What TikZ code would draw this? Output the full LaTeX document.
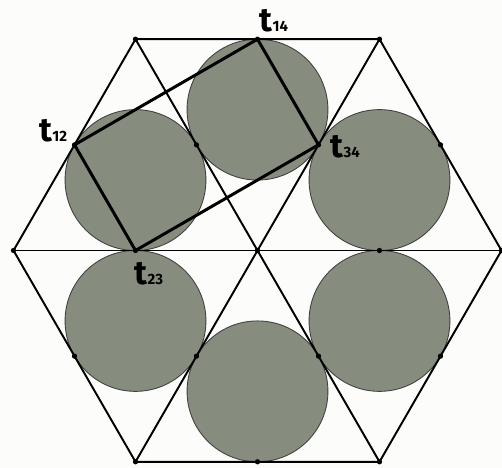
\documentclass[tikz,border=0pt]{standalone}
\usepackage{fontspec}
\setmainfont{Fira Sans}
\usepackage{xcolor}
\usepackage{tikz}
\usetikzlibrary{positioning,calc}
\definecolor{discgray}{HTML}{878D7E}
\definecolor{paper}{HTML}{FCFCFB}
\tikzset{
  edge/.style={draw,line width=1.1pt,line join=round},
  frame/.style={draw,line width=1.7pt,line join=round},
  disc/.style={draw=black!75,line width=0.5pt,fill=discgray},
  pt/.style={circle,fill=black,inner sep=0pt,minimum size=3pt},
  lbl/.style={inner sep=0pt,font=\bfseries},
}
\newcommand{\tlab}[1]{{\fontsize{19}{19}\selectfont t}{\fontsize{8.5}{9}\selectfont #1}}

\begin{document}
\begin{tikzpicture}
\def\s{4.88}
\fill[paper] (-5.15,-4.35) rectangle (4.89,5.01);
\useasboundingbox (-5.15,-4.35) rectangle (4.89,5.01);
\coordinate (O) at (0,0);
\coordinate (R) at (0:\s);
\coordinate (TR) at (60:\s);
\coordinate (TL) at (120:\s);
\coordinate (L) at (180:\s);
\coordinate (BL) at (240:\s);
\coordinate (BR) at (300:\s);
\coordinate (t14) at ($(TL)!0.5!(TR)$);
\coordinate (t12) at ($(TL)!0.5!(L)$);
\coordinate (t23) at ($(L)!0.5!(O)$);
\coordinate (t34) at ($(TR)!0.5!(O)$);
\foreach \a in {30,90,...,330}
  \draw[disc] (\a:{\s/sqrt(3)}) circle ({\s/(2*sqrt(3))});
\draw[edge] (R) -- (TR) -- (TL) -- (L) -- (BL) -- (BR) -- cycle;
\draw[edge] (L) -- (R);
\draw[edge] (TL) -- (BR);
\draw[edge] (TR) -- (BL);
\draw[frame] (t12) -- (t14) -- (t34) -- (t23) -- cycle;
\foreach \a in {0,60,...,300}{
  \node[pt] at (\a:\s) {};
  \node[pt] at (\a:{\s/2}) {};
  \node[pt] at ({\a+30}:{\s*sqrt(3)/2}) {};
}
\node[pt] at (O) {};
\node[lbl, anchor=base west] (lab14) at ($(t14)+(0.04,0.16)$) {\tlab{14}};
\node[lbl, anchor=base east] (lab12) at ($(t12)+(-0.14,0.06)$) {\tlab{12}};
\node[lbl, anchor=base west] (lab34) at ($(t34)+(0.24,-0.26)$) {\tlab{34}};
\node[lbl, anchor=base west] (lab23) at ($(t23)+(-0.02,-0.68)$) {\tlab{23}};
\end{tikzpicture}
\end{document}
